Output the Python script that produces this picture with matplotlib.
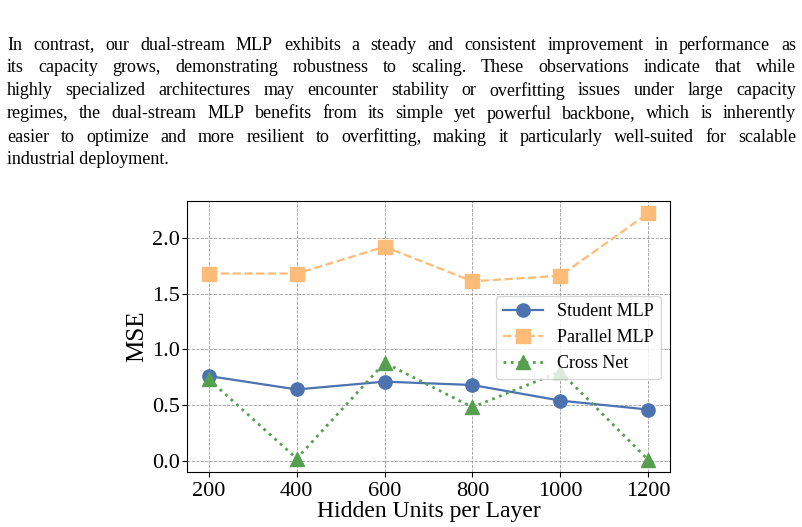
import numpy as np
import matplotlib
matplotlib.use("Agg")
import matplotlib.pyplot as plt

plt.rcParams['font.family'] = ['Liberation Serif', 'DejaVu Serif']

# data
hidden_units = [200, 400, 600, 800, 1000, 1200]
student_mlp = [0.76, 0.64, 0.71, 0.68, 0.54, 0.46]
parallel_mlp = [1.68, 1.68, 1.92, 1.61, 1.66, 2.22]
cross_net = [0.73, 0.02, 0.88, 0.48, 0.80, 0.01]

paragraph = [
    "In contrast, our dual-stream MLP exhibits a steady and consistent improvement in performance as",
    "its capacity grows, demonstrating robustness to scaling. These observations indicate that while",
    "highly specialized architectures may encounter stability or overfitting issues under large capacity",
    "regimes, the dual-stream MLP benefits from its simple yet powerful backbone, which is inherently",
    "easier to optimize and more resilient to overfitting, making it particularly well-suited for scalable",
    "industrial deployment.",
]

W, H = 802, 527
fig = plt.figure(figsize=(W / 100, H / 100), dpi=100)
renderer = fig.canvas.get_renderer()

# justified paragraph above the chart; font size chosen so the widest line fits
x_left, x_right = 7, 796
probe = [fig.text(0, 0, l, fontsize=10) for l in paragraph]
widest = max(p.get_window_extent(renderer).width for p in probe)
for p in probe:
    p.remove()
fs = min(13.0, 10 * (x_right - x_left) / widest)

for i, line in enumerate(paragraph):
    y = 1 - (45 + i * 23) / H
    words = line.split(" ")
    if i == len(paragraph) - 1:
        fig.text(x_left / W, y, line, fontsize=fs, va='center', ha='left')
        continue
    arts = [fig.text(0, y, w, fontsize=fs, va='center', ha='left') for w in words]
    widths = [a.get_window_extent(renderer).width for a in arts]
    gap = (x_right - x_left - sum(widths)) / (len(words) - 1)
    x = x_left
    for a, w in zip(arts, widths):
        a.set_x(x / W)
        x += w + gap

ax = fig.add_axes([187 / W, 1 - 472 / H, (670 - 187) / W, (472 - 201) / H])
ax.plot(hidden_units, student_mlp, '-o', color='#4C72B0', lw=1.6, ms=9.5, label='Student MLP')
ax.plot(hidden_units, parallel_mlp, '--s', color='#FFBB78', lw=1.6, ms=9.5, label='Parallel MLP')
ax.plot(hidden_units, cross_net, ':^', color='#55A04E', lw=2, ms=9.5, label='Cross Net')

ax.set_xticks(hidden_units)
ax.set_yticks([0.0, 0.5, 1.0, 1.5, 2.0])
ax.grid(True, linestyle='--', color='gray', lw=0.6, alpha=0.8)
ax.tick_params(labelsize=16)
ax.tick_params(axis='y', pad=1.5)
ax.set_xlabel('Hidden Units per Layer', fontsize=17, labelpad=0)
ax.set_ylabel('MSE', fontsize=18, labelpad=3)
ax.legend(loc='upper right', bbox_to_anchor=(1.0, 0.683), fontsize=13,
          handlelength=2.2, borderpad=0.4, labelspacing=0.5)

fig.savefig('out.png', dpi=100)
